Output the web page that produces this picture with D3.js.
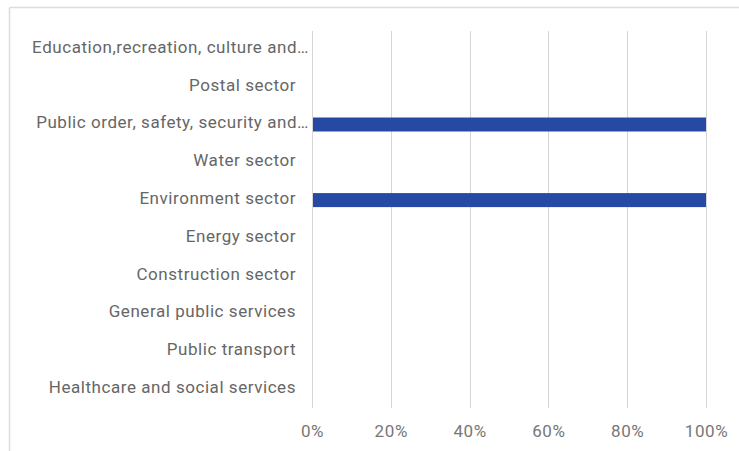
<!DOCTYPE html>
<html>
<head>
<meta charset="utf-8">
<script src="https://cdn.jsdelivr.net/npm/d3@7"></script>
<style>
  html, body { margin: 0; padding: 0; background: #fff; }
  svg { display: block; font-family: Roboto, "Noto Sans", sans-serif; }
</style>
</head>
<body>
<svg id="chart" width="739" height="451"></svg>
<script>
// Sector labels, top to bottom (long names cut with an ellipsis)
const categories = [
  "Education,recreation, culture and\u2026",
  "Postal sector",
  "Public order, safety, security and\u2026",
  "Water sector",
  "Environment sector",
  "Energy sector",
  "Construction sector",
  "General public services",
  "Public transport",
  "Healthcare and social services"
];
// Share per sector, in percent
const values = [0, 0, 100, 0, 100, 0, 0, 0, 0, 0];
// X axis ticks, in percent
const xTicks = [0, 20, 40, 60, 80, 100];

const svg = d3.select("#chart");

// Card frame (top and left edges)
svg.append("line").attr("x1", 9.5).attr("x2", 739).attr("y1", 7.5).attr("y2", 7.5)
  .attr("stroke", "#dcdcdc").attr("stroke-width", 1.5);
svg.append("line").attr("x1", 9.5).attr("x2", 9.5).attr("y1", 7.5).attr("y2", 451)
  .attr("stroke", "#dcdcdc").attr("stroke-width", 1.5);

const margin = { left: 312, right: 33, top: 30, bottom: 43 };
const W = 739, H = 451;

const x = d3.scaleLinear().domain([0, 100]).range([margin.left, W - margin.right]);
const y = d3.scaleBand().domain(categories).range([margin.top, H - margin.bottom]).padding(0);

// Vertical gridlines
svg.append("g").selectAll("line").data(xTicks).join("line")
  .attr("x1", d => Math.round(x(d)) + 0.5).attr("x2", d => Math.round(x(d)) + 0.5)
  .attr("y1", 31).attr("y2", 408)
  .attr("stroke", "#d6d6d6").attr("stroke-width", 1);

// Bars
const barH = 14;
svg.append("g").selectAll("rect").data(categories.map((c, i) => ({ c, v: values[i] })))
  .join("rect")
  .attr("x", x(0) + 1)
  .attr("y", d => y(d.c) + y.bandwidth() / 2 - barH / 2)
  .attr("width", d => Math.max(0, x(d.v) - x(0) - 1))
  .attr("height", barH)
  .attr("fill", "#2649a3");

// Category labels; truncated ones run right up to the axis
const yAxis = d3.axisLeft(y).tickSize(0).tickPadding(16);
const gy = svg.append("g").attr("transform", `translate(${x(0)},-1.5)`).call(yAxis);
gy.select(".domain").remove();
gy.selectAll("text").attr("font-size", 17).attr("letter-spacing", 0.55)
  .attr("fill", "#666").attr("font-family", "Roboto, sans-serif")
  .attr("dx", d => d.endsWith("\u2026") ? 13 : 0);

// Percent tick labels
const xAxis = d3.axisBottom(x).tickValues(xTicks).tickFormat(d => d + "%").tickSize(0).tickPadding(0);
const gx = svg.append("g").attr("transform", `translate(0,${425})`).call(xAxis);
gx.select(".domain").remove();
gx.selectAll("text").attr("font-size", 17).attr("letter-spacing", 0.6)
  .attr("fill", "#777").attr("font-family", "Roboto, sans-serif");
</script>
</body>
</html>
